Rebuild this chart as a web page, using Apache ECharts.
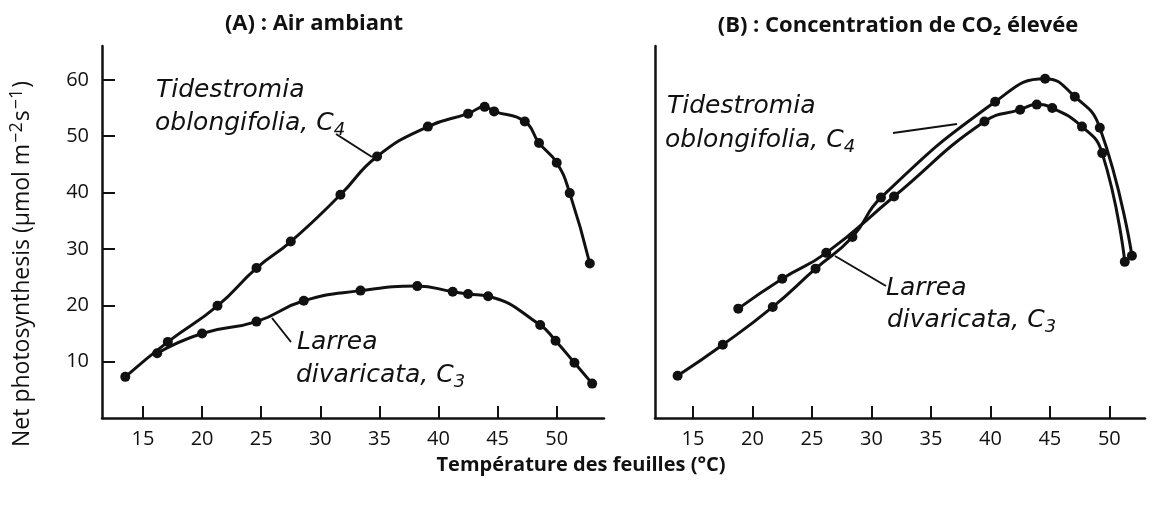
<!DOCTYPE html>
<html>
<head>
<meta charset="utf-8">
<script src="https://cdn.jsdelivr.net/npm/echarts@6/dist/echarts.min.js"></script>
<style>
html,body{margin:0;padding:0;background:#fff;}
#c{width:1160px;height:506px;}
</style>
</head>
<body>
<div id="c"></div>
<script>
// ---- data ----
const xTicks = [15, 20, 25, 30, 35, 40, 45, 50];
const yTicks = [10, 20, 30, 40, 50, 60];

// Panel A : Air ambiant
const tidA_x = [13.5, 17.1, 21.3, 24.6, 27.5, 31.7, 34.8, 39.1, 42.5, 43.9, 44.7, 47.3, 48.5, 50.0, 51.1, 52.8];
const tidA_y = [7.3, 13.5, 19.9, 26.6, 31.3, 39.6, 46.4, 51.7, 54.0, 55.2, 54.4, 52.6, 48.8, 45.3, 39.9, 27.4];
const larA_x = [16.2, 20.0, 24.6, 28.6, 33.4, 38.2, 41.2, 42.5, 44.2, 48.6, 49.9, 51.5, 53.0];
const larA_y = [11.5, 15.0, 17.1, 20.8, 22.6, 23.4, 22.4, 22.0, 21.6, 16.5, 13.7, 9.8, 6.1];

// Panel B : Concentration de CO2 élevée
const tidB_x = [13.7, 17.5, 21.7, 25.3, 28.4, 30.8, 40.4, 44.6, 47.1, 49.2, 51.9];
const tidB_y = [7.5, 13.0, 19.7, 26.5, 32.1, 39.1, 56.1, 60.2, 57.0, 51.5, 28.8];
const larB_x = [18.8, 22.5, 26.2, 31.9, 39.5, 42.5, 43.9, 45.2, 47.7, 49.4, 51.3];
const larB_y = [19.4, 24.7, 29.3, 39.3, 52.6, 54.7, 55.6, 55.0, 51.7, 47.0, 27.7];

const titleA = '(A) : Air ambiant';
const titleB = '(B) : Concentration de CO₂ élevée';
const xTitle = 'Température des feuilles (°C)';

const pairs = (xs, ys) => xs.map((x, i) => [x, ys[i]]);
const FONT = '"Open Sans", "Noto Sans", "DejaVu Sans", sans-serif';
const LFONT = '"DejaVu Sans", "Open Sans", sans-serif';
const INK = '#111';

const chart = echarts.init(document.getElementById('c'), null, {renderer: 'canvas'});

function xAxisCfg(gi, min, max) {
  return {
    type: 'value', gridIndex: gi, min: min, max: max,
    axisLine: {show: true, onZero: false, lineStyle: {color: INK, width: 2.5}},
    axisTick: {show: true, inside: true, length: 12, customValues: xTicks, lineStyle: {color: INK, width: 2}},
    axisLabel: {show: true, customValues: xTicks, margin: 11, fontSize: 20, color: INK, fontFamily: FONT},
    splitLine: {show: false}
  };
}
function yAxisCfg(gi, showLabels) {
  return {
    type: 'value', gridIndex: gi, min: 0, max: 66,
    axisLine: {show: true, onZero: false, lineStyle: {color: INK, width: 2.5}},
    axisTick: {show: showLabels, inside: true, length: 13, customValues: yTicks, lineStyle: {color: INK, width: 2}},
    axisLabel: {show: showLabels, customValues: yTicks, margin: 13, fontSize: 20, color: INK, fontFamily: FONT},
    splitLine: {show: false}
  };
}
function curve(name, xi, yi, data) {
  return {
    name: name, type: 'line', xAxisIndex: xi, yAxisIndex: yi,
    data: data, smooth: 0.5, symbol: 'circle', symbolSize: 10,
    lineStyle: {color: INK, width: 3}, itemStyle: {color: INK},
    animation: false, z: 3
  };
}

const lab = (x, y, txt) => ({
  type: 'text', x: x, y: y,
  style: {
    text: txt, fill: INK, font: 'italic 25px ' + LFONT,
    rich: {sub: {fontSize: 18, fontStyle: 'italic', fontFamily: LFONT, fill: INK, padding: [13, 0, 0, 0]}}
  }
});

const ptr = (x1, y1, x2, y2) => ({
  type: 'line', shape: {x1: x1, y1: y1, x2: x2, y2: y2},
  style: {stroke: INK, lineWidth: 2}
});

chart.setOption({
  backgroundColor: '#fff',
  animation: false,
  grid: [
    {left: 102, top: 46, width: 502, height: 372},
    {left: 655, top: 46, width: 490, height: 372}
  ],
  xAxis: [xAxisCfg(0, 11.53, 54), xAxisCfg(1, 11.8, 53)],
  yAxis: [yAxisCfg(0, true), yAxisCfg(1, false)],
  series: [
    curve('Tidestromia oblongifolia, C4 (A)', 0, 0, pairs(tidA_x, tidA_y)),
    curve('Larrea divaricata, C3 (A)', 0, 0, pairs(larA_x, larA_y)),
    curve('Tidestromia oblongifolia, C4 (B)', 1, 1, pairs(tidB_x, tidB_y)),
    curve('Larrea divaricata, C3 (B)', 1, 1, pairs(larB_x, larB_y))
  ],
  graphic: [
    {type: 'text', x: 314, y: 24, style: {text: titleA, font: 'bold 22px ' + FONT, fill: INK, align: 'center', verticalAlign: 'middle'}},
    {type: 'text', x: 898, y: 26, style: {text: titleB, font: 'bold 22px ' + FONT, fill: INK, align: 'center', verticalAlign: 'middle'}},
    {type: 'text', x: 581, y: 465, style: {text: xTitle, font: 'bold 20px ' + FONT, fill: INK, align: 'center', verticalAlign: 'middle'}},
    {type: 'text', x: 22, y: 447, rotation: Math.PI / 2,
      style: {
        text: '{a|Net photosynthesis (μmol m}{s|−2}{a|s}{s|−1}{a|)}',
        align: 'left', verticalAlign: 'middle',
        rich: {
          a: {fontSize: 23, fontFamily: FONT, fill: INK},
          s: {fontSize: 18, fontFamily: FONT, fill: INK, padding: [0, 1, 11, 1]}
        }
      }},
    // Panel A labels
    lab(156, 78, 'Tidestromia'),
    lab(155, 108, 'oblongifolia, C{sub|4}'),
    ptr(336, 134, 372, 157),
    lab(297, 330, 'Larrea'),
    lab(296, 360, 'divaricata, C{sub|3}'),
    ptr(272, 318, 291, 342),
    // Panel B labels
    lab(667, 94, 'Tidestromia'),
    lab(665, 125, 'oblongifolia, C{sub|4}'),
    ptr(893, 133, 957, 124),
    lab(886, 276, 'Larrea'),
    lab(887, 305, 'divaricata, C{sub|3}'),
    ptr(835, 256, 886, 286)
  ]
});
</script>
</body>
</html>
